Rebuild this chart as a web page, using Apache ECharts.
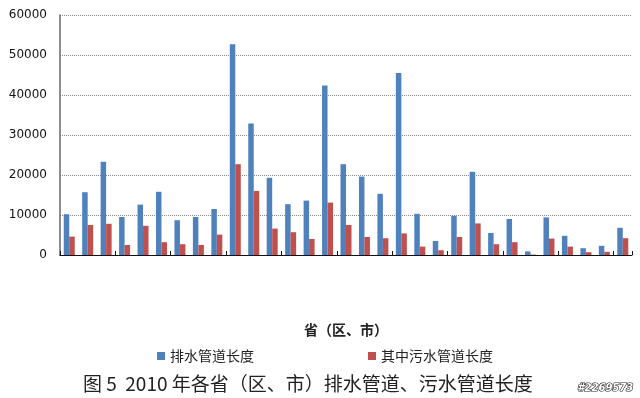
<!DOCTYPE html>
<html>
<head>
<meta charset="utf-8">
<script src="https://cdn.jsdelivr.net/npm/echarts@6/dist/echarts.min.js"></script>
<style>
html,body{margin:0;padding:0;background:#fff;}
#main{width:640px;height:398px;}
</style>
</head>
<body>
<div id="main"></div>
<script>
var provinces=['北京','天津','河北','山西','内蒙古','辽宁','吉林','黑龙江','上海','江苏','浙江','安徽','福建','江西','山东','河南','湖北','湖南','广东','广西','海南','重庆','四川','贵州','云南','西藏','陕西','甘肃','青海','宁夏','新疆'];
var drainLen=[10200,15700,23300,9500,12600,15800,8700,9500,11500,52700,32900,19300,12700,13600,42400,22700,19600,15300,45500,10300,3500,9800,20800,5500,9000,900,9400,4800,1700,2300,6800];
var sewageLen=[4600,7500,7800,2500,7300,3200,2700,2500,5100,22700,16000,6600,5700,4000,13100,7500,4500,4200,5400,2100,1200,4500,7900,2700,3200,100,4100,2100,700,800,4200];
var yTicks=[0,10000,20000,30000,40000,50000,60000];

var chart=echarts.init(document.getElementById('main'));
var option={
	animation:false,
	backgroundColor:'#fff',
	title:{
		text:'图 5  2010 年各省（区、市）排水管道、污水管道长度',
		left:83,
		top:374,
		padding:0,
		textStyle:{fontFamily:'Noto Sans CJK SC',fontSize:19,fontWeight:'normal',color:'#222'}
	},
	graphic:[{
		type:'text',
		left:577,
		top:383,
		style:{text:'#2269573',fontFamily:'DejaVu Sans',fontSize:10,fontWeight:'bold',fontStyle:'italic',fill:'#fff',stroke:'#222',lineWidth:1.2}
	}],
	legend:{
		data:['排水管道长度','其中污水管道长度'],
		left:152,
		top:344,
		itemWidth:8,
		itemHeight:8,
		itemGap:114,
		icon:'rect',
		textStyle:{fontFamily:'Noto Sans CJK SC',fontSize:14,color:'#222'}
	},
	grid:{left:60,right:8,top:15,bottom:143,containLabel:false},
	xAxis:{
		type:'category',
		data:provinces,
		name:'省（区、市）',
		nameLocation:'middle',
		nameGap:68,
		nameTextStyle:{fontFamily:'Noto Sans CJK SC',fontSize:14,fontWeight:'bold',color:'#222'},
		axisLine:{lineStyle:{color:'#111',width:1}},
		axisTick:{show:true,inside:true,length:4,lineStyle:{color:'#111'}},
		axisLabel:{show:false}
	},
	yAxis:{
		type:'value',
		min:yTicks[0],
		max:yTicks[yTicks.length-1],
		interval:10000,
		axisLine:{show:true,lineStyle:{color:'#666',width:1.5}},
		axisTick:{show:false},
		axisLabel:{fontFamily:'DejaVu Sans',fontSize:12,color:'#111',margin:13,formatter:function(v){return String(v);}},
		splitLine:{lineStyle:{color:'#888',type:'dotted'}}
	},
	series:[{
		name:'排水管道长度',
		type:'bar',
		data:drainLen,
		barWidth:5.5,
		barGap:'0%',
		itemStyle:{color:'#4F81BD'}
	},{
		name:'其中污水管道长度',
		type:'bar',
		data:sewageLen,
		barWidth:5.5,
		itemStyle:{color:'#C0504D'}
	}]
};
chart.setOption(option);
</script>
</body>
</html>
